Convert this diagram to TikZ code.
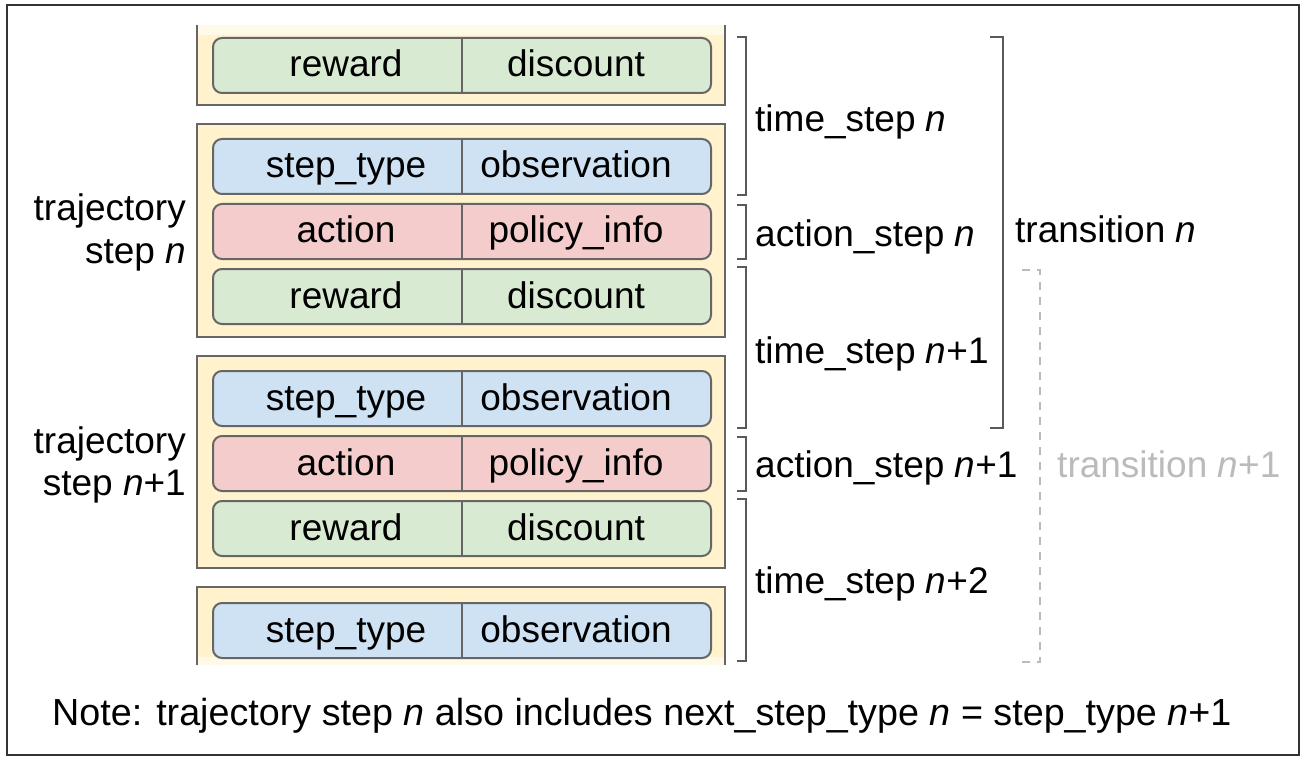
\documentclass[tikz,border=0pt]{standalone}
\usepackage{fontspec}
\setmainfont{Liberation Sans}
\definecolor{beige}{HTML}{FFF2CC}
\definecolor{beigelt}{HTML}{FFF9E8}
\definecolor{gfill}{HTML}{D9EAD3}
\definecolor{bfill}{HTML}{CFE2F3}
\definecolor{rfill}{HTML}{F4CCCC}
\definecolor{edge}{HTML}{666666}
\definecolor{brk}{HTML}{595959}
\definecolor{faded}{HTML}{BBBBBB}
\newcommand\rowbox[5]{%
  \node[rowbase, fill=#3, anchor=north west] (#1) at (212,#2) {};
  \draw[rowline] (#1.north) -- (#1.south);
  \node[lbl] (#1l) at (346,#2+30.5) {#4};
  \node[lbl] (#1r) at (576,#2+30.5) {#5};
}
\begin{document}
\begin{tikzpicture}[x=1pt,y=-1pt,
  every node/.style={font=\fontsize{37}{42}\selectfont, inner sep=0pt},
  rowbase/.style={draw=edge, line width=2pt, rounded corners=9pt, minimum width=498pt, minimum height=55pt},
  rowline/.style={draw=edge, line width=1.6pt},
  lbl/.style={text height=26.5pt, text depth=7.5pt},
  trajbox/.style={draw=edge, line width=2.2pt, fill=beige},
  bracket/.style={draw=brk, line width=2pt},
  dbracket/.style={draw=faded, line width=1.8pt, dash pattern=on 8pt off 7pt}
]
\useasboundingbox (0,0) rectangle (1306,762);
\fill[white] (0,0) rectangle (1306,762);
\draw[draw=black!80, line width=1.6pt] (7,5) rectangle (1299,755);

% top partial box
\fill[beige] (197,25) rectangle (725,105);
\fill[beigelt] (197,25) rectangle (725,35);
\draw[draw=edge, line width=2.2pt] (197,25) -- (197,105) -- (725,105) -- (725,25);
% middle boxes
\draw[trajbox] (197,124) rectangle (725,337);
\draw[trajbox] (197,356) rectangle (725,568);
% bottom partial box
\fill[beige] (197,587) rectangle (725,665);
\fill[beigelt] (197,657) rectangle (725,665);
\draw[draw=edge, line width=2.2pt] (197,665) -- (197,587) -- (725,587) -- (725,665);

\rowbox{ra}{37}{gfill}{reward}{discount}
\rowbox{sb}{138}{bfill}{step\_type}{observation}
\rowbox{ab}{203}{rfill}{action}{policy\_info}
\rowbox{rb}{268}{gfill}{reward}{discount}
\rowbox{sc}{370}{bfill}{step\_type}{observation}
\rowbox{ac}{435}{rfill}{action}{policy\_info}
\rowbox{rc}{500}{gfill}{reward}{discount}
\rowbox{sd}{602}{bfill}{step\_type}{observation}

% left labels
\node[anchor=base east] (t1a) at (186,221) {trajectory};
\node[anchor=base east] (t1b) at (186,263) {step \textit{n}};
\node[anchor=base east] (t2a) at (186,453) {trajectory};
\node[anchor=base east] (t2b) at (186,495) {step \textit{n}+1};

% brackets
\coordinate (b1t) at (746,37);  \coordinate (b1b) at (746,195);
\coordinate (b2t) at (746,205); \coordinate (b2b) at (746,259);
\coordinate (b3t) at (746,267); \coordinate (b3b) at (746,428);
\coordinate (b4t) at (746,437); \coordinate (b4b) at (746,491);
\coordinate (b5t) at (746,499); \coordinate (b5b) at (746,661);
\foreach \b in {b1,b2,b3,b4,b5}{
  \draw[bracket] ([xshift=-9pt]\b t) -- (\b t) -- (\b b) -- ([xshift=-9pt]\b b);
}
\node[anchor=base west] (l1) at (755,132) {time\_step \textit{n}};
\node[anchor=base west] (l2) at (755,247) {action\_step \textit{n}};
\node[anchor=base west] (l3) at (755,363) {time\_step \textit{n}+1};
\node[anchor=base west] (l4) at (755,477) {action\_step \textit{n}+1};
\node[anchor=base west] (l5) at (755,593) {time\_step \textit{n}+2};

% transition n
\coordinate (tnt) at (1003,37); \coordinate (tnb) at (1003,428);
\draw[bracket] ([xshift=-13pt]tnt) -- (tnt) -- (tnb) -- ([xshift=-13pt]tnb);
\node[anchor=base west] (tn) at (1015,243) {transition \textit{n}};

% transition n+1
\coordinate (tmt) at (1040,270); \coordinate (tmb) at (1040,662);
\draw[dbracket] ([xshift=-18pt]tmt) -- (tmt) -- (tmb) -- ([xshift=-18pt]tmb);
\node[anchor=base west, text=faded] (tm) at (1057,477) {transition \textit{n}+1};

% note
\node[anchor=base west, font=\fontsize{37.7}{42}\selectfont] (note) at (52,725) {Note: trajectory step \textit{n} also includes next\_step\_type \textit{n} = step\_type \textit{n}+1};
\end{tikzpicture}
\end{document}
